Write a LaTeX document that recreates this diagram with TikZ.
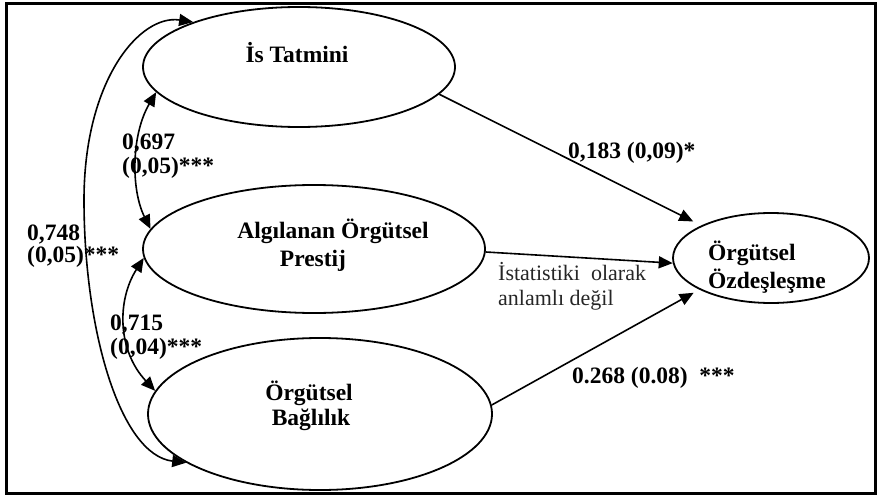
\documentclass[tikz,border=0pt]{standalone}
\usepackage{fontspec}
\setmainfont{Liberation Serif}
\usetikzlibrary{arrows.meta,shapes.geometric}
\begin{document}
\begin{tikzpicture}[x=1pt,y=-1pt,
  ell/.style={draw,ellipse,line width=1.8pt,inner sep=0pt},
  lbl/.style={inner sep=0pt,font=\fontsize{23.5}{27}\selectfont\bfseries},
  note/.style={inner sep=0pt,text=black!85,font=\fontsize{22}{26}\selectfont},
  conn/.style={line width=1.6pt,-{Triangle[length=14pt,width=12pt]}},
  dbl/.style={line width=1.6pt,{Triangle[length=14pt,width=12pt]}-{Triangle[length=14pt,width=12pt]}}]
\useasboundingbox (0,0) rectangle (878,495);
\draw[line width=3pt] (6.5,3.5) rectangle (875,493);
% latent variables
\node[ell,minimum width=312pt,minimum height=120pt] (A) at (299,67) {};
\node[ell,minimum width=342pt,minimum height=128pt] (B) at (314,249) {};
\node[ell,minimum width=344pt,minimum height=152pt] (C) at (320,414) {};
\node[ell,minimum width=196pt,minimum height=90pt] (D) at (771,258) {};
% texts in ellipses
\node[lbl,anchor=base] (At) at (297,63) {İs Tatmini};
\node[lbl,anchor=base] (Bt1) at (333,238) {Algılanan Örgütsel};
\node[lbl,anchor=base] (Bt2) at (313,266) {Prestij};
\node[lbl,anchor=base] (Ct1) at (309,400) {Örgütsel};
\node[lbl,anchor=base] (Ct2) at (311,425) {Bağlılık};
\node[lbl,anchor=base west] (Dt1) at (708,260) {Örgütsel};
\node[lbl,anchor=base west] (Dt2) at (708,288) {Özdeşleşme};
% paths
\draw[conn] (A.-11) -- ([shift={(-8,-4)}]D.155);
\draw[conn] (B.-1) -- (D.183);
\draw[conn] (C.3) -- ([shift={(-6,3)}]D.204);
% correlations
\draw[dbl] (A.190) .. controls (131,135) and (131,190) .. (B.173);
\draw[dbl] (B.183) .. controls (117,300) and (117,350) .. (C.172);
\draw[dbl] (A.157) .. controls (140,14) and (84,80) .. (84,200)
                   .. controls (84,330) and (120,455) .. (C.200);
% coefficient labels
\node[lbl,anchor=base west] (l1a) at (122,149) {0,697};
\node[lbl,anchor=base west] (l1b) at (122,173) {(0,05)***};
\node[lbl,anchor=base west] (l2a) at (27,240) {0,748};
\node[lbl,anchor=base west] (l2b) at (27,262) {(0,05)***};
\node[lbl,anchor=base west] (l3a) at (110,330) {0,715};
\node[lbl,anchor=base west] (l3b) at (110,354) {(0,04)***};
\node[lbl,anchor=base west] (l4) at (568,158) {0,183 (0,09)*};
\node[lbl,anchor=base west] (l5) at (572,383) {0.268 (0.08)\ \ ***};
\node[note,anchor=base west] (n1) at (498,280) {İstatistiki\ \ olarak};
\node[note,anchor=base west] (n2) at (498,305) {anlamlı değil};
\end{tikzpicture}
\end{document}
